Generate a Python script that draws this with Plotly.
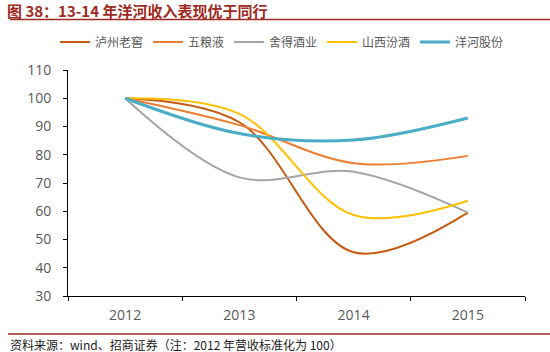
import plotly.graph_objects as go

years = ["2012", "2013", "2014", "2015"]
names = ["泸州老窖", "五粮液", "舍得酒业", "山西汾酒", "洋河股份"]
luzhou = [100, 91.5, 45.5, 59.5]
wuliangye = [100, 90.5, 77, 79.6]
shede = [100, 72, 74, 59.5]
fenjiu = [100, 94.5, 58.7, 63.7]
yanghe = [100, 87.5, 85.2, 93]
series = [luzhou, wuliangye, shede, fenjiu, yanghe]
colors = ["#C55A11", "#ED7D31", "#A5A5A5", "#FFC000", "#4BACC6"]
widths = [2, 2, 2, 2, 3]
yticks = [30, 40, 50, 60, 70, 80, 90, 100, 110]

PT, PB, PL, PR = 70, 296, 68, 525
H = PB - PT
W = PR - PL

def py(v):
    return (PB - v) / H

def px(v):
    return (v - PL) / W

fig = go.Figure()
for n, s, c, w in zip(names, series, colors, widths):
    fig.add_trace(go.Scatter(x=years, y=s, name=n, mode="lines",
                             line=dict(color=c, width=w, shape="spline", smoothing=1.0)))

fig.update_layout(
    width=550, height=352,
    margin=dict(l=PL, r=550 - PR, t=PT, b=352 - PB, autoexpand=False),
    plot_bgcolor="white", paper_bgcolor="white",
    font=dict(family="Noto Sans CJK SC, Open Sans", size=12, color="#595959"),
    showlegend=True,
    legend=dict(orientation="h", x=px(282), xanchor="center", y=py(42), yanchor="middle",
                font=dict(size=12, color="#595959"), itemwidth=30, tracegroupgap=0,
                bgcolor="rgba(0,0,0,0)"),
    xaxis=dict(type="category", range=[-0.5, 3.5], tickson="boundaries",
               showline=True, linecolor="#000000", linewidth=1,
               ticks="outside", ticklen=4, tickcolor="#000000",
               ticklabelstandoff=6,
               showgrid=False, tickfont=dict(size=14, color="#595959", family="Open Sans")),
    yaxis=dict(range=[30, 110], tickvals=yticks, showline=True, linecolor="#000000",
               linewidth=1, ticks="outside", ticklen=4, tickcolor="#000000",
               ticklabelstandoff=9,
               showgrid=False, zeroline=False,
               tickfont=dict(size=14, color="#595959", family="Open Sans")),
)

fig.add_annotation(text="<b>图 38：13-14 年洋河收入表现优于同行</b>", xref="paper", yref="paper",
                   x=px(5), y=py(10), xanchor="left", yanchor="middle",
                   showarrow=False, font=dict(size=15, color="#9E2A22",
                                              family="Noto Sans CJK SC"))
fig.add_shape(type="line", xref="paper", yref="paper",
              x0=px(10), x1=px(550), y0=py(19.5), y1=py(19.5),
              line=dict(color="#9E2A22", width=1.5))
fig.add_shape(type="line", xref="paper", yref="paper",
              x0=px(8), x1=px(550), y0=py(334), y1=py(334),
              line=dict(color="#9E2A22", width=1.5))
fig.add_annotation(text="资料来源：wind、招商证券（注：2012 年营收标准化为 100）", xref="paper", yref="paper",
                   x=px(8), y=py(344), xanchor="left", yanchor="middle",
                   showarrow=False, font=dict(size=12, color="#222222",
                                              family="Noto Sans CJK SC"))

fig.write_html("out.html")
